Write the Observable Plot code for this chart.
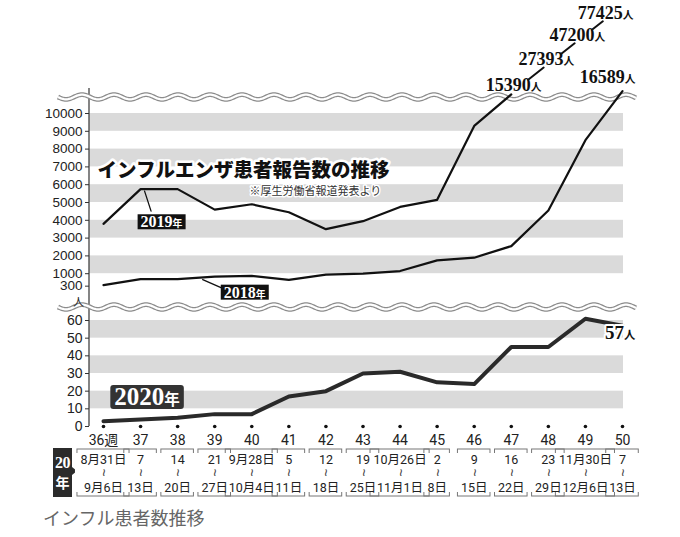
<!DOCTYPE html>
<html><head><meta charset="utf-8">
<script src="https://cdn.jsdelivr.net/npm/d3@7"></script>
<script src="https://cdn.jsdelivr.net/npm/@observablehq/plot@0.6"></script>
<style>
html,body{margin:0;padding:0;background:#fff;}
#chart{position:relative;width:680px;height:537px;overflow:hidden;background:#fff;}
#chart svg{position:absolute;left:0;overflow:visible;}
.yr{position:absolute;left:53px;top:448px;width:19px;height:49px;background:#2b2b2b;color:#fff;
 display:flex;flex-direction:column;align-items:center;justify-content:center;line-height:18px;}
.yr .n{font:bold 16px 'Liberation Serif',serif;letter-spacing:-0.5px;}
.yr .k{font:bold 14px 'Noto Sans CJK JP',sans-serif;}
.yr::after{content:"";position:absolute;right:-5px;top:19px;border-top:4px solid transparent;border-bottom:4px solid transparent;border-left:5px solid #2b2b2b;}
.cap{position:absolute;left:43px;top:505px;font-size:18px;line-height:24px;color:#666;font-family:'Noto Sans CJK JP',sans-serif;}
</style></head>
<body><div id="chart"></div>
<script>
// ---------- data ----------
const weeks = [36, 37, 38, 39, 40, 41, 42, 43, 44, 45, 46, 47, 48, 49, 50];
const weekLabels = ["36週", "37", "38", "39", "40", "41", "42", "43", "44", "45", "46", "47", "48", "49", "50"];
const dateFrom = ["8月31日", "7", "14", "21", "9月28日", "5", "12", "19", "10月26日", "2", "9", "16", "23", "11月30日", "7"];
const dateTo = ["9月6日", "13日", "20日", "27日", "10月4日", "11日", "18日", "25日", "11月1日", "8日", "15日", "22日", "29日", "12月6日", "13日"];
const cases2018 = [360, 700, 700, 840, 880, 650, 950, 1000, 1150, 1750, 1900, 2550, 4550, 8500, 16589];
const cases2019 = [3800, 5750, 5750, 4600, 4900, 4450, 3500, 3950, 4750, 5150, 9300, 15390, 27393, 47200, 77425];
const cases2020 = [3, 4, 5, 7, 7, 17, 20, 30, 31, 25, 24, 45, 45, 61, 57];
const seriesNames = ["2018年", "2019年", "2020年"];
const upperTicks = [300, 1000, 2000, 3000, 4000, 5000, 6000, 7000, 8000, 9000, 10000];
const lowerTicks = [0, 10, 20, 30, 40, 50, 60];
const upperBands = [[1000, 2000], [3000, 4000], [5000, 6000], [7000, 8000], [9000, 10000]];
const lowerBands = [[10, 20], [30, 40], [50, 60]];
const titleText = "インフルエンザ患者報告数の推移";
const sourceText = "※厚生労働省報道発表より";
const captionText = "インフル患者数推移";
const unitText = "人";
const yearTag = ["20", "年"];

// ---------- style ----------
const SANS = "'Liberation Sans', Arial, sans-serif";
const NARROW = "'Liberation Sans Narrow', 'Roboto', 'Noto Sans CJK JP', sans-serif";
const SERIF = "'Liberation Serif', 'DejaVu Serif', 'Noto Sans CJK JP', serif";
const CJK = "'Noto Sans CJK JP', sans-serif";
const BAND = "#dadada";
const INK = "#111";
const X = {domain: [36, 50], range: [103, 622]};
const TOP_MAX = 10000;

// upper panel: linear up to 10000, compressed (log) above the break
const PX_PER_UNIT = 0.0178;
const breakTransform = v => v <= TOP_MAX ? v : TOP_MAX + 102 * Math.log10(v / TOP_MAX) / PX_PER_UNIT;
const cut = cases2019.findIndex(v => v > TOP_MAX);
const ladder = cases2019.slice(cut);

const stick = {draw(context, l) { context.moveTo(0, 0); context.lineTo(0, -l); }};

function wave(offset) {
  return (index, scales, values, dims) => {
    const x0 = dims.marginLeft - 31, x1 = dims.width - dims.marginRight + 13, y0 = dims.marginTop + offset;
    const pts = d3.range(x0, x1 + 0.5, 1).map(x => [x, y0 + 2.4 * Math.sin((x - x0) * 2 * Math.PI / 32)]);
    const p = d3.line()(pts);
    const g = d3.create("svg:g");
    g.append("path").attr("d", p).attr("fill", "none").attr("stroke", "#8c8c8c").attr("stroke-width", 4.8);
    g.append("path").attr("d", p).attr("fill", "none").attr("stroke", "#fff").attr("stroke-width", 2.3);
    return g.node();
  };
}
function axisLine(index, scales, values, dims) {
  return d3.create("svg:line")
    .attr("x1", dims.marginLeft).attr("x2", dims.marginLeft)
    .attr("y1", dims.marginTop).attr("y2", dims.height - dims.marginBottom)
    .attr("stroke", "#333").attr("stroke-width", 1.2).node();
}

const chart = document.getElementById("chart");

// ---------- upper panel ----------
const upper = Plot.plot({
  width: 680, height: 300,
  marginLeft: 89, marginRight: 57, marginTop: 88, marginBottom: 0,
  style: {background: "transparent", overflow: "visible"},
  x: {...X, axis: null},
  y: {domain: [0, TOP_MAX], range: [291, 113], transform: breakTransform},
  marks: [
    Plot.rect(upperBands, {y1: d => d[0], y2: d => d[1], fill: BAND}),
    Plot.axisY({ticks: upperTicks, tickSize: 4, tickPadding: 3, tickFormat: d => String(d), fontSize: 13.5, fontFamily: SANS, label: null, stroke: "#333", fill: "#222"}),
    axisLine,
    wave(9),
    Plot.text([titleText], {text: d => d, frameAnchor: "top-left", lineAnchor: "middle", dx: 8, dy: 82, textAnchor: "start", fontSize: 19.5, fontWeight: 900, fontFamily: CJK, fill: INK, stroke: "white", strokeWidth: 5}),
    Plot.text([sourceText], {text: d => d, frameAnchor: "top-left", lineAnchor: "middle", dx: 160, dy: 103, textAnchor: "start", fontSize: 11, fontFamily: CJK, fill: "#333", stroke: "white", strokeWidth: 3}),
    Plot.line(weeks, {x: d => d, y: (d, i) => cases2018[i], stroke: INK, strokeWidth: 2.2, strokeLinejoin: "round"}),
    Plot.line(weeks.slice(0, cut + 1), {x: d => d, y: (d, i) => cases2019[i], stroke: INK, strokeWidth: 2.2, strokeLinejoin: "round"}),
    Plot.vector([1], {x: i => weeks[i], y: i => cases2019[i], length: 21, rotate: 162, anchor: "start", shape: stick, stroke: INK, strokeWidth: 1.3, dx: 4, dy: 2}),
    Plot.vector([3], {x: i => weeks[i], y: i => cases2018[i], length: 20, rotate: 114, anchor: "start", shape: stick, stroke: INK, strokeWidth: 1.3, dx: -12, dy: 3}),
    Plot.text([1], {x: i => weeks[i], y: i => cases2019[i], text: () => seriesNames[1], dx: 21, dy: 33, fontSize: 16, fontWeight: "bold", fontFamily: SERIF, fill: "white", ariaLabel: () => "boxdark"}),
    Plot.text([3], {x: i => weeks[i], y: i => cases2018[i], text: () => seriesNames[0], dx: 30, dy: 16, fontSize: 16, fontWeight: "bold", fontFamily: SERIF, fill: "white", ariaLabel: () => "boxdark"}),
    Plot.text([weeks.length - 1], {x: i => weeks[i], y: i => cases2018[i], text: i => cases2018[i] + unitText, textAnchor: "end", lineAnchor: "bottom", dx: 13, dy: -8, fontSize: 18, fontWeight: "bold", fontFamily: SERIF, fill: INK, ariaLabel: () => "suffix"})
  ]
});
upper.style.top = "0px";
chart.appendChild(upper);

// ---------- values beyond the break (2019) ----------
const ladderPlot = Plot.plot({
  width: 680, height: 100, margin: 0,
  style: {background: "transparent", overflow: "visible"},
  x: {type: "log", domain: [ladder[0], ladder[ladder.length - 1]], range: [541, 633], axis: null},
  y: {type: "log", domain: [ladder[0], ladder[ladder.length - 1]], range: [90, 18], axis: null},
  marks: [
    Plot.arrow(d3.pairs(ladder), {x1: d => d[0], y1: d => d[0], x2: d => d[1], y2: d => d[1], headLength: 0, inset: 11, dx: -22, dy: -4, stroke: INK, strokeWidth: 2}),
    Plot.text(ladder, {x: d => d, y: d => d, text: d => d + unitText, textAnchor: "end", lineAnchor: "bottom", fontSize: 18, fontWeight: "bold", fontFamily: SERIF, fill: INK, ariaLabel: () => "suffix"})
  ]
});
ladderPlot.style.top = "0px";
chart.appendChild(ladderPlot);

// ---------- lower panel (2020) ----------
const lower = Plot.plot({
  width: 680, height: 158,
  marginLeft: 89, marginRight: 57, marginTop: 10, marginBottom: 22,
  style: {background: "transparent", overflow: "visible"},
  x: {...X},
  y: {domain: [0, 60], range: [136, 30]},
  marks: [
    Plot.rect(lowerBands, {y1: d => d[0], y2: d => d[1], fill: BAND}),
    Plot.axisY({ticks: lowerTicks, tickSize: 4, tickPadding: 3, fontSize: 14, fontFamily: SANS, label: null, stroke: "#333", fill: "#222"}),
    axisLine,
    Plot.axisX({ticks: weeks, tickSize: 0, tickPadding: 9, tickFormat: d => weekLabels[weeks.indexOf(d)], fontSize: 14, fontFamily: NARROW, label: null, fill: "#222"}),
    wave(7),
    Plot.text([unitText], {text: d => d, frameAnchor: "top-left", lineAnchor: "middle", textAnchor: "middle", dx: -11, dy: 2, fontSize: 11, fontFamily: CJK, fill: "#222"}),
    Plot.dot(weeks, {x: d => d, y: 0, r: 1.8, fill: INK}),
    Plot.line(weeks, {x: d => d, y: (d, i) => cases2020[i], stroke: "#2a2a2a", strokeWidth: 4, strokeLinejoin: "round"}),
    Plot.text([1], {x: i => weeks[i], y: i => cases2020[i], text: () => seriesNames[2], dx: 6.5, dy: -22, fontSize: 25, fontWeight: "bold", fontFamily: SERIF, fill: "white", ariaLabel: () => "box2020"}),
    Plot.text([weeks.length - 1], {x: i => weeks[i], y: i => cases2020[i], text: i => cases2020[i] + unitText, textAnchor: "end", lineAnchor: "top", dx: 13, dy: 0, fontSize: 19, fontWeight: "bold", fontFamily: SERIF, fill: INK, stroke: "white", strokeWidth: 4, ariaLabel: () => "suffix"})
  ]
});
lower.style.top = "290px";
chart.appendChild(lower);

// ---------- date brackets ----------
const ctx = document.createElement("canvas").getContext("2d");
ctx.font = `12.5px ${NARROW}`;
const pxPerWeek = (X.range[1] - X.range[0]) / (X.domain[1] - X.domain[0]);
const half = weeks.map((w, i) => (Math.max(ctx.measureText(dateFrom[i]).width, ctx.measureText(dateTo[i]).width) / 2 + 3) / pxPerWeek);
const dates = Plot.plot({
  width: 680, height: 56,
  marginLeft: 89, marginRight: 57, marginTop: 4, marginBottom: 5,
  style: {background: "transparent", overflow: "visible"},
  x: {...X, axis: null},
  marks: [
    Plot.rect(weeks, {x1: (d, i) => d - half[i], x2: (d, i) => d + half[i], fill: "none", stroke: "#777", strokeWidth: 1}),
    Plot.rect(weeks, {x1: (d, i) => d - half[i], x2: (d, i) => d + half[i], fill: "white", insetTop: 4, insetBottom: 4, insetLeft: -2, insetRight: -2}),
    Plot.text(weeks, {x: d => d, text: (d, i) => dateFrom[i], frameAnchor: "top", lineAnchor: "middle", dy: 10, fontSize: 12.5, fontFamily: NARROW, fill: "#222"}),
    Plot.text(weeks, {x: d => d, text: () => "~", rotate: 90, frameAnchor: "top", lineAnchor: "middle", dy: 23, fontSize: 14, fontFamily: SANS, fill: "#444"}),
    Plot.text(weeks, {x: d => d, text: (d, i) => dateTo[i], frameAnchor: "bottom", lineAnchor: "middle", dy: -9, fontSize: 12.5, fontFamily: NARROW, fill: "#222"})
  ]
});
dates.style.top = "445px";
chart.appendChild(dates);

// ---------- year tag and caption ----------
const tag = document.createElement("div");
tag.className = "yr";
tag.innerHTML = `<span class="n">${yearTag[0]}</span><span class="k">${yearTag[1]}</span>`;
chart.insertBefore(tag, chart.firstChild);
const cap = document.createElement("div");
cap.className = "cap";
cap.textContent = captionText;
chart.appendChild(cap);

// ---------- label finishing: small suffix glyphs, label boxes ----------
const NS = "http://www.w3.org/2000/svg";
function smallSuffix(el, scale) {
  const s = el.textContent;
  el.textContent = s.slice(0, -1);
  const t = document.createElementNS(NS, "tspan");
  t.setAttribute("font-size", scale + "em");
  t.setAttribute("font-family", CJK);
  t.textContent = s.slice(-1);
  el.appendChild(t);
}
function boxed(el, fill, padX, padY, rx) {
  const bb = el.getBBox();
  const r = document.createElementNS(NS, "rect");
  r.setAttribute("x", bb.x - padX);
  r.setAttribute("y", bb.y - padY);
  r.setAttribute("width", bb.width + 2 * padX);
  r.setAttribute("height", bb.height + 2 * padY);
  r.setAttribute("rx", rx);
  r.setAttribute("fill", fill);
  r.setAttribute("stroke", "none");
  const tr = el.getAttribute("transform");
  if (tr) r.setAttribute("transform", tr);
  el.parentNode.insertBefore(r, el);
}
document.querySelectorAll("text[aria-label='suffix']").forEach(el => smallSuffix(el, 0.6));
document.querySelectorAll("text[aria-label='boxdark']").forEach(el => { smallSuffix(el, 0.62); boxed(el, "#111", 3, -1, 0); });
document.querySelectorAll("text[aria-label='box2020']").forEach(el => { smallSuffix(el, 0.62); boxed(el, "#333", 4, -1.5, 3); });
</script>
</body></html>
